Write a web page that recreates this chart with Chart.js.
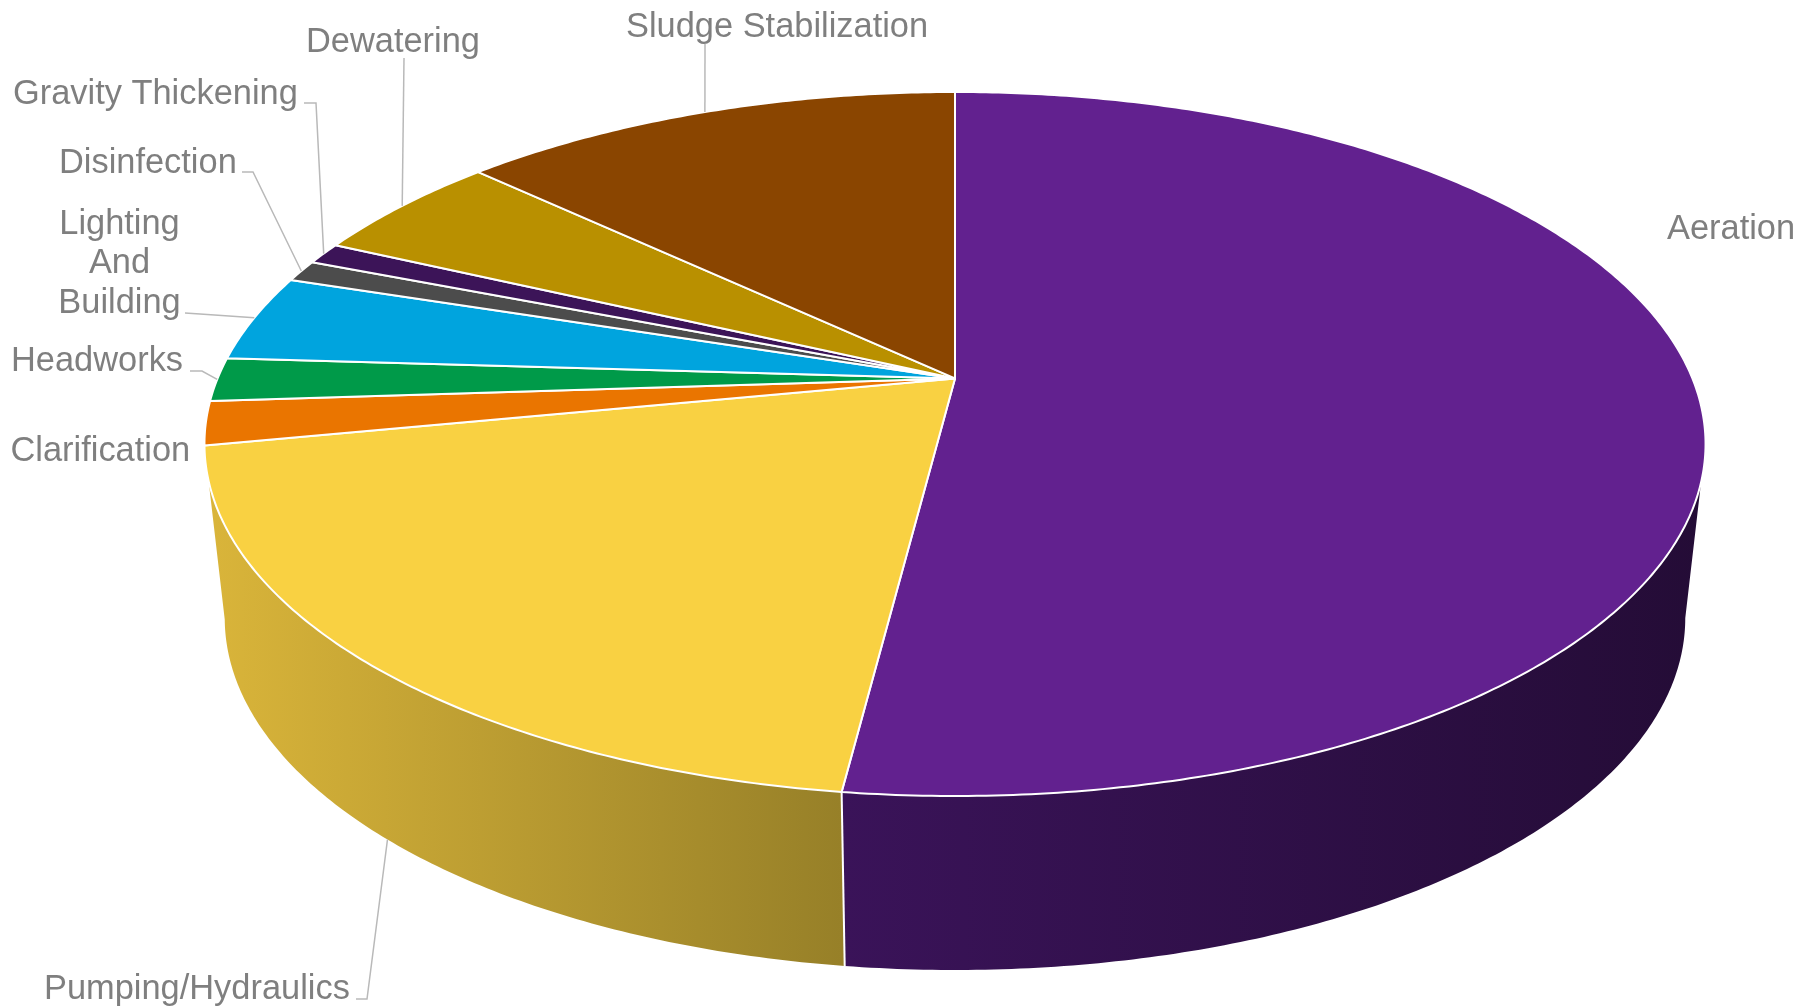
<!DOCTYPE html>
<html>
<head>
<meta charset="utf-8">
<title>Energy use by process</title>
<script src="https://cdn.jsdelivr.net/npm/chart.js@4"></script>
<style>
  html, body { margin: 0; padding: 0; background: #fff; }
  canvas { display: block; }
</style>
</head>
<body>
<canvas id="energyChart" width="1809" height="1008"></canvas>
<script>
const categories = ['Aeration', 'Pumping/Hydraulics', 'Clarification', 'Headworks', 'Lighting And Building',
  'Disinfection', 'Gravity Thickening', 'Dewatering', 'Sludge Stabilization'];
const shares = [52, 19.95, 2, 2, 4, 1, 1, 5.05, 13];
const sliceColors = ['#62218f', '#f9d142', '#ea7500', '#009a49', '#00a4de', '#4c4c4c', '#3c1458', '#b99000', '#8a4500'];
// left and right colour of the outer wall, only the two front slices show one
const wallColors = [['#3a1359', '#240c36'], ['#dab53a', '#978028']];

// label text: left x and baseline of each line, null for no leader
const labelLines = [['Aeration'], ['Pumping/Hydraulics'], ['Clarification'], ['Headworks'], ['Lighting', 'And', 'Building'],
  ['Disinfection'], ['Gravity Thickening'], ['Dewatering'], ['Sludge Stabilization']];
const labelSpots = [[1667, 239], [44, 999], [10.5, 461], [11, 371], [119.5, 233.5], [59, 173], [13, 104], [306, 52], [626, 37]];
const leaderBends = [null, [[356, 999], [367, 999]], null, [[190, 371], [202, 371]], [[185, 313], [200, 314]],
  [[242, 172], [253, 172]], [[304, 103], [316, 103]], [[404, 58]], [[705, 44]]];

// the disc seen in perspective
const discX = 955;
const apexY = 378.4;
const radiusX = 737.4;
const radiusY = 339.8;
const tilt = 0.1863;
const wallDepth = 174;
const wallShrink = 0.973;

function project(angle, lower) {
  const w = 1 - tilt * Math.sin(angle);
  const shrink = lower ? wallShrink : 1;
  return {
    x: discX + shrink * radiusX * Math.cos(angle) / w,
    y: apexY + (lower ? wallDepth : 0) + radiusY * Math.sin(angle) / w
  };
}

class TiltedArc extends Chart.ArcElement {
  static id = 'tiltedArc';

  draw(ctx) {
    ctx.save();
    ctx.beginPath();
    ctx.moveTo(discX, apexY);
    const steps = Math.ceil((this.endAngle - this.startAngle) / 0.01);
    for (let i = 0; i <= steps; i++) {
      const p = project(this.startAngle + (this.endAngle - this.startAngle) * i / steps);
      ctx.lineTo(p.x, p.y);
    }
    ctx.closePath();
    ctx.fillStyle = this.options.backgroundColor;
    ctx.fill();
    ctx.lineJoin = 'round';
    ctx.lineWidth = this.options.borderWidth;
    ctx.strokeStyle = this.options.borderColor;
    ctx.stroke();
    ctx.restore();
  }
}
Chart.register(TiltedArc);
Chart.defaults.datasets.pie.dataElementType = 'tiltedArc';

const wallPlugin = {
  id: 'wallPlugin',
  beforeDatasetsDraw(chart) {
    const ctx = chart.ctx;
    const arcs = chart.getDatasetMeta(0).data;
    ctx.save();
    arcs.forEach((arc, i) => {
      if (!wallColors[i]) return;
      const top = [];
      const bottom = [];
      const steps = Math.ceil((arc.endAngle - arc.startAngle) / 0.01);
      for (let s = 0; s <= steps; s++) {
        const a = arc.startAngle + (arc.endAngle - arc.startAngle) * s / steps;
        if (Math.sin(a) < tilt) continue;
        top.push(project(a));
        bottom.push(project(a, true));
      }
      const xs = top.map(p => p.x);
      const grad = ctx.createLinearGradient(Math.min(...xs), 0, Math.max(...xs), 0);
      grad.addColorStop(0, wallColors[i][0]);
      grad.addColorStop(1, wallColors[i][1]);
      ctx.beginPath();
      top.forEach((p, n) => (n ? ctx.lineTo(p.x, p.y) : ctx.moveTo(p.x, p.y)));
      bottom.reverse().forEach(p => ctx.lineTo(p.x, p.y));
      ctx.closePath();
      ctx.fillStyle = grad;
      ctx.fill();
    });
    // the white edge where the two walls meet
    const edge = arcs[1].startAngle;
    const a = project(edge);
    const b = project(edge, true);
    ctx.beginPath();
    ctx.moveTo(a.x, a.y);
    ctx.lineTo(b.x, b.y);
    ctx.lineWidth = 2;
    ctx.strokeStyle = '#ffffff';
    ctx.stroke();
    ctx.restore();
  }
};

const labelPlugin = {
  id: 'labelPlugin',
  afterDatasetsDraw(chart) {
    const ctx = chart.ctx;
    const arcs = chart.getDatasetMeta(0).data;
    ctx.save();
    ctx.strokeStyle = '#b9b9b9';
    ctx.lineWidth = 1.5;
    arcs.forEach((arc, i) => {
      if (!leaderBends[i]) return;
      // the wall slice points at its lower edge, the others at the top rim
      const end = project((arc.startAngle + arc.endAngle) / 2, i === 1);
      ctx.beginPath();
      leaderBends[i].forEach((p, n) => (n ? ctx.lineTo(p[0], p[1]) : ctx.moveTo(p[0], p[1])));
      ctx.lineTo(end.x, end.y);
      ctx.stroke();
    });
    ctx.font = '34.4px "Liberation Sans", Arial, sans-serif';
    ctx.fillStyle = '#7f7f7f';
    labelLines.forEach((lines, i) => {
      ctx.textAlign = lines.length > 1 ? 'center' : 'left';
      lines.forEach((line, n) => {
        ctx.fillText(line, labelSpots[i][0], labelSpots[i][1] + n * 39.5);
      });
    });
    ctx.restore();
  }
};

new Chart(document.getElementById('energyChart').getContext('2d'), {
  type: 'pie',
  data: {
    labels: categories,
    datasets: [{
      data: shares,
      backgroundColor: sliceColors,
      borderColor: '#ffffff',
      borderWidth: 2
    }]
  },
  options: {
    responsive: false,
    animation: false,
    events: [],
    plugins: {
      legend: { display: false },
      tooltip: { enabled: false }
    }
  },
  plugins: [wallPlugin, labelPlugin]
});
</script>
</body>
</html>
